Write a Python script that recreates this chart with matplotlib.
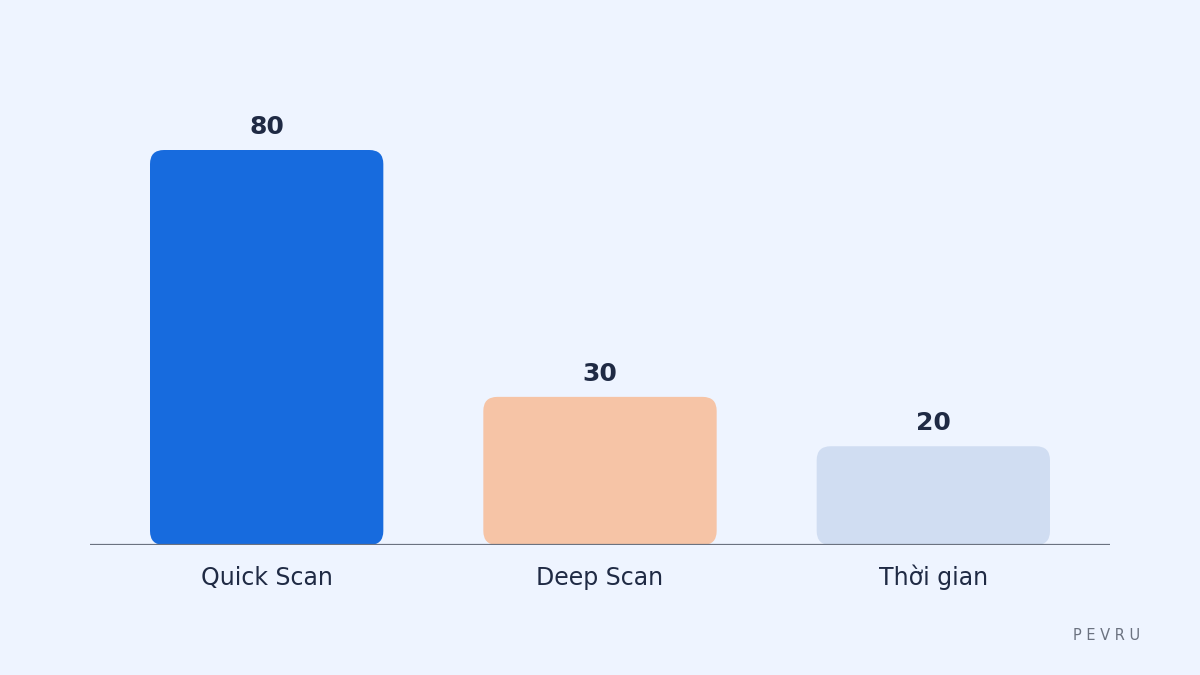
import matplotlib
matplotlib.use("Agg")
import matplotlib.pyplot as plt
from matplotlib.patches import FancyBboxPatch

# ---------------------------------------------------------------------------
# Data
# ---------------------------------------------------------------------------
categories = ["Quick Scan", "Deep Scan", "Thời gian"]
values     = [80, 30, 20]
colors     = ["#176BDE", "#F6C4A6", "#D0DDF2"]

BG        = "#EEF4FF"
TEXT      = "#1F2A44"
AXIS_LINE = "#6B7280"

fig = plt.figure(figsize=(12, 6.75), dpi=100, facecolor=BG)
ax = fig.add_axes([0.075, 130 / 675, 0.85, 493.75 / 675])
ax.set_facecolor(BG)

ax.set_xlim(-0.53, 2.53)
ax.set_ylim(0, 100)

width = 0.7
# px per data unit, used to keep the rounded corners circular
px_x = 1020 / 3.06
px_y = 493.75 / 100
aspect = px_x / px_y
radius_px = 14

bars = ax.bar(range(len(values)), values, width=width, color="none")
for bar, c, v, name in zip(bars, colors, values, categories):
    x0, y0 = bar.get_x(), bar.get_y()
    w, h = bar.get_width(), bar.get_height()
    patch = FancyBboxPatch((x0, y0), w, h,
                           boxstyle=f"round,pad=0,rounding_size={radius_px / px_x}",
                           mutation_aspect=aspect,
                           facecolor=c, edgecolor="none", zorder=2)
    ax.add_patch(patch)
    ax.text(x0 + w / 2, v + 23 / px_y, str(v), ha="center", va="center",
            fontsize=18, fontweight="bold", color=TEXT)
    # category label, baseline-aligned so the diacritics don't shift it
    ax.text(x0 + w / 2, -40 / px_y, name, ha="center", va="baseline",
            fontsize=17, color=TEXT, clip_on=False)

ax.axhline(0, color=AXIS_LINE, linewidth=1.6, zorder=3)

for s in ax.spines.values():
    s.set_visible(False)
ax.set_xticks([])
ax.set_yticks([])

fig.text(1140 / 1200, 1 - 636 / 675, "P E V R U", ha="right", va="center",
         fontsize=10.5, color=AXIS_LINE)

fig.savefig("out.png", dpi=100, facecolor=BG)
